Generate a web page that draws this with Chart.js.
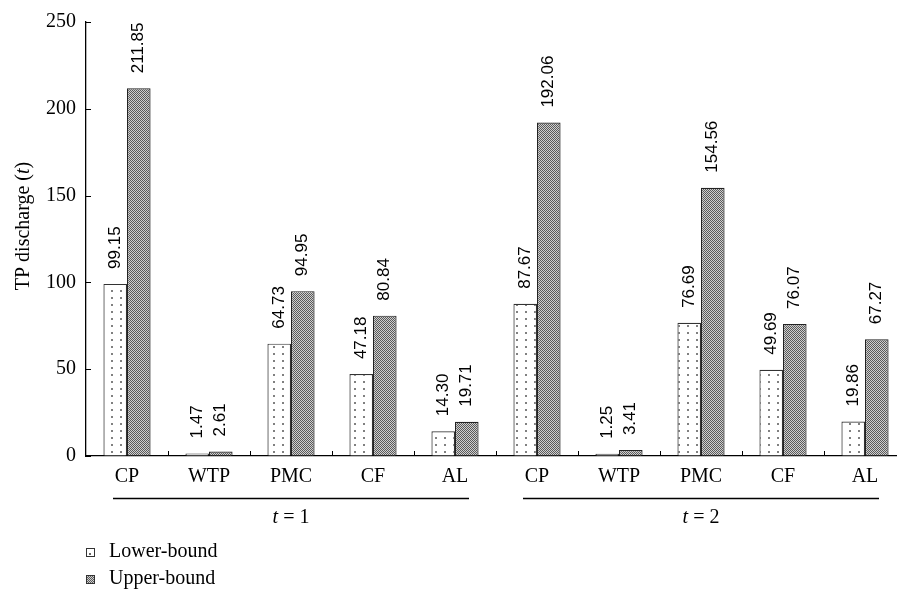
<!DOCTYPE html>
<html>
<head>
<meta charset="utf-8">
<script src="https://cdn.jsdelivr.net/npm/chart.js@4"></script>
<style>
  html, body { margin: 0; padding: 0; background: #fff; overflow: hidden; }
  #wrap { width: 906px; height: 593px; }
</style>
</head>
<body>
<div id="wrap"><canvas id="tp-chart" width="906" height="593"></canvas></div>
<script>
const categories = ['CP', 'WTP', 'PMC', 'CF', 'AL', 'CP', 'WTP', 'PMC', 'CF', 'AL'];
const lowerBound = [99.15, 1.47, 64.73, 47.18, 14.30, 87.67, 1.25, 76.69, 49.69, 19.86];
const upperBound = [211.85, 2.61, 94.95, 80.84, 19.71, 192.06, 3.41, 154.56, 76.07, 67.27];
const groupLabels = ['1', '2'];
const yTicks = [0, 50, 100, 150, 200, 250];

const SERIF = '"Liberation Serif", "DejaVu Serif", serif';
const SANS = '"Liberation Sans", Arial, sans-serif';

// dotted white fill for the lower bound
const makeDots = () => {
    const c = document.createElement('canvas');
    c.width = 9; c.height = 7;
    const g = c.getContext('2d');
    g.fillStyle = '#fff';
    g.fillRect(0, 0, 9, 7);
    g.fillStyle = '#808080';
    g.fillRect(3, 3, 2, 2);
    return g.createPattern(c, 'repeat');
};

// dense checker fill for the upper bound
const makeChecker = () => {
    const c = document.createElement('canvas');
    c.width = 2; c.height = 2;
    const g = c.getContext('2d');
    g.fillStyle = '#cfcfcf';
    g.fillRect(0, 0, 2, 2);
    g.fillStyle = '#5a5a5a';
    g.fillRect(0, 0, 1, 1);
    g.fillRect(1, 1, 1, 1);
    return g.createPattern(c, 'repeat');
};

const dotFill = makeDots();
const checkFill = makeChecker();

const extras = {
    id: 'extras',
    afterDatasetsDraw: (chart) => {
        const ctx = chart.ctx;
        const x = chart.scales.x;
        const y = chart.scales.y;
        const area = chart.chartArea;
        const step = (area.right - area.left) / categories.length;
        ctx.save();

        // inward tick marks
        ctx.strokeStyle = '#000';
        ctx.lineWidth = 1;
        ctx.beginPath();
        yTicks.forEach(v => {
            const py = Math.round(y.getPixelForValue(v)) + 0.5;
            ctx.moveTo(area.left, py);
            ctx.lineTo(area.left + 5, py);
        });
        for (let i = 1; i <= categories.length; i++) {
            const px = Math.round(area.left + i * step) + 0.5;
            ctx.moveTo(px, area.bottom);
            ctx.lineTo(px, area.bottom - 5);
        }
        ctx.stroke();

        // value labels, rotated
        ctx.fillStyle = '#000';
        ctx.font = '17px ' + SANS;
        ctx.textAlign = 'left';
        ctx.textBaseline = 'middle';
        chart.data.datasets.forEach((ds, di) => {
            const meta = chart.getDatasetMeta(di);
            meta.data.forEach((bar, i) => {
                ctx.save();
                ctx.translate(bar.x, bar.y - 15);
                ctx.rotate(-Math.PI / 2);
                ctx.fillText(ds.data[i].toFixed(2), 0, 0);
                ctx.restore();
            });
        });

        // group brackets: line + "t = n"
        groupLabels.forEach((g, gi) => {
            const left = area.left + gi * 5 * step + 27;
            const right = area.left + (gi + 1) * 5 * step - 27;
            ctx.beginPath();
            ctx.lineWidth = 1.3;
            ctx.moveTo(left, 498.5);
            ctx.lineTo(right, 498.5);
            ctx.stroke();
            const cx = x.getPixelForValue(gi * 5 + 2);
            ctx.textBaseline = 'middle';
            ctx.font = 'italic 20px ' + SERIF;
            const w1 = ctx.measureText('t').width;
            ctx.font = '20px ' + SERIF;
            const rest = ' = ' + g;
            const w2 = ctx.measureText(rest).width;
            const sx = cx - (w1 + w2) / 2;
            ctx.textAlign = 'left';
            ctx.font = 'italic 20px ' + SERIF;
            ctx.fillText('t', sx, 518);
            ctx.font = '20px ' + SERIF;
            ctx.fillText(rest, sx + w1, 518);
        });

        // y title with italic t
        ctx.save();
        ctx.translate(24, 226);
        ctx.rotate(-Math.PI / 2);
        const parts = [['TP discharge (', ''], ['t', 'italic '], [')', '']];
        let total = 0;
        parts.forEach(p => { ctx.font = p[1] + '20px ' + SERIF; total += ctx.measureText(p[0]).width; });
        let tx = -total / 2;
        ctx.textAlign = 'left';
        ctx.textBaseline = 'middle';
        parts.forEach(p => {
            ctx.font = p[1] + '20px ' + SERIF;
            ctx.fillText(p[0], tx, 0);
            tx += ctx.measureText(p[0]).width;
        });
        ctx.restore();

        // legend
        const items = [['Lower-bound', dotFill, 552], ['Upper-bound', checkFill, 579]];
        items.forEach(it => {
            ctx.fillStyle = '#fff';
            ctx.fillRect(86, it[2] - 4, 9, 9);
            if (it[1] === checkFill) {
                ctx.fillStyle = checkFill;
                ctx.fillRect(86, it[2] - 4, 9, 9);
            } else {
                ctx.fillStyle = '#666';
                ctx.fillRect(89, it[2] + 1, 2, 2);
            }
            ctx.strokeStyle = '#333';
            ctx.lineWidth = 1;
            ctx.strokeRect(86.5, it[2] - 3.5, 8, 8);
            ctx.fillStyle = '#000';
            ctx.font = '20px ' + SERIF;
            ctx.textAlign = 'left';
            ctx.textBaseline = 'middle';
            ctx.fillText(it[0], 109, it[2]);
        });

        ctx.restore();
    }
};

new Chart(document.getElementById('tp-chart'), {
    type: 'bar',
    data: {
        labels: categories,
        datasets: [{
            label: 'Lower-bound',
            data: lowerBound,
            backgroundColor: dotFill,
            borderColor: '#333',
            borderWidth: 1.2,
            barPercentage: 1.0,
            categoryPercentage: 0.575
        },
        {
            label: 'Upper-bound',
            data: upperBound,
            backgroundColor: checkFill,
            borderColor: '#222',
            borderWidth: 1.2,
            barPercentage: 1.0,
            categoryPercentage: 0.575
        }]
    },
    options: {
        responsive: false,
        animation: false,
        devicePixelRatio: 1,
        layout: { padding: { top: 20, left: 0, right: 0, bottom: 0 } },
        plugins: {
            legend: { display: false },
            tooltip: { enabled: false }
        },
        scales: {
            x: {
                grid: { display: true, drawOnChartArea: false, drawTicks: false },
                border: { display: true, color: '#000', width: 1.3 },
                ticks: {
                    color: '#000',
                    padding: 9,
                    maxRotation: 0,
                    autoSkip: false,
                    font: { family: SERIF, size: 20 }
                },
                afterFit: (scale) => { scale.height = 137; }
            },
            y: {
                min: 0,
                max: 250,
                grid: { display: true, drawOnChartArea: false, drawTicks: false },
                border: { display: true, color: '#000', width: 1.3 },
                ticks: {
                    stepSize: 50,
                    color: '#000',
                    padding: 10,
                    font: { family: SERIF, size: 20 }
                },
                afterFit: (scale) => { scale.width = 86; }
            }
        }
    },
    plugins: [extras]
});
</script>
</body>
</html>
